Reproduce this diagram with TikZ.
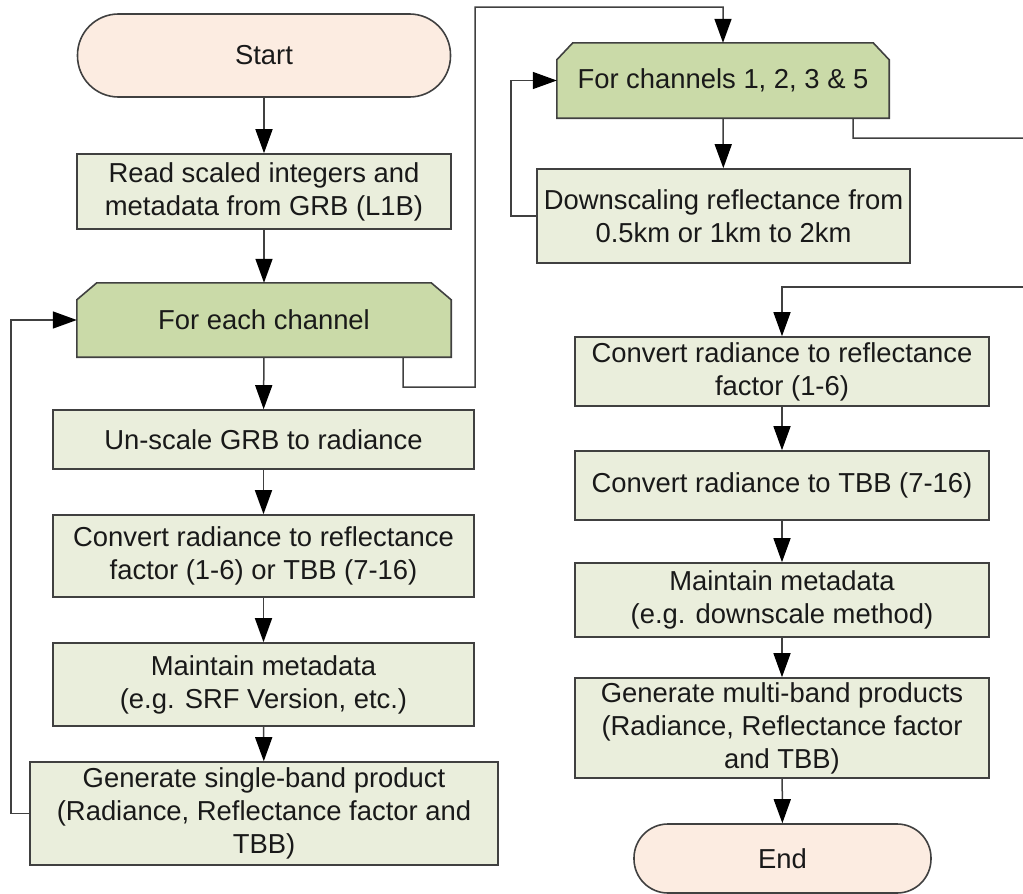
\documentclass[tikz,border=0pt]{standalone}
\usepackage{fontspec}
\setmainfont{Liberation Sans}
\usetikzlibrary{arrows.meta,backgrounds}
\definecolor{boxfill}{RGB}{234,238,220}
\definecolor{loopfill}{RGB}{202,218,168}
\definecolor{termfill}{RGB}{252,236,225}
\definecolor{edgecol}{RGB}{64,64,64}
\tikzset{
  base/.style={inner sep=0pt, align=center, font=\fontsize{27.4}{33}\selectfont, text=black!90},
  proc/.style={base, draw=edgecol, line width=1.6pt, fill=boxfill, rectangle},
  term/.style={base, draw=edgecol, line width=1.6pt, fill=termfill},
  loophead/.style={base},
  loopshape/.style={draw=edgecol, line width=1.6pt, fill=loopfill},
  conn/.style={draw=edgecol, line width=1.5pt, -{Triangle[length=24pt,width=17pt,color=black]}},
  plainline/.style={draw=edgecol, line width=1.5pt},
}
\begin{document}
\begin{tikzpicture}[x=1pt, y=-1pt]
\useasboundingbox (0,0) rectangle (1023,894);

% left column
\node[term, rounded corners=41pt, minimum width=373pt, minimum height=83pt] (st) at (264,55.5) {Start};
\node[proc, minimum width=374pt, minimum height=75pt] (rd) at (264,191.5) {Read scaled integers and\\metadata from GRB (L1B)};
\node[loophead, minimum width=374pt, minimum height=74pt] (fe) at (264,320) {For each channel};
\node[proc, minimum width=421pt, minimum height=59pt] (us) at (263.5,439.5) {Un-scale GRB to radiance};
\node[proc, minimum width=421pt, minimum height=82pt] (cv) at (263.5,556) {Convert radiance to reflectance\\factor (1-6) or TBB (7-16)};
\node[proc, minimum width=421pt, minimum height=83pt] (mm) at (263.5,684.5) {Maintain metadata\\(e.g. SRF Version, etc.)};
\node[proc, minimum width=468pt, minimum height=103pt] (gs) at (264,813.5) {Generate single-band product\\(Radiance, Reflectance factor and\\TBB)};

% right column
\node[loophead, minimum width=332pt, minimum height=75pt] (fc) at (723,80.5) {For channels 1, 2, 3 \& 5};
\node[proc, minimum width=373pt, minimum height=94pt] (dn) at (723.5,216) {Downscaling reflectance from\\0.5km or 1km to 2km};
\node[proc, minimum width=414pt, minimum height=69pt] (c2) at (782,371.5) {Convert radiance to reflectance\\factor (1-6)};
\node[proc, minimum width=414pt, minimum height=69pt] (tb) at (782,485.5) {Convert radiance to TBB (7-16)};
\node[proc, minimum width=414pt, minimum height=74pt] (m2) at (782,600) {Maintain metadata\\(e.g. downscale method)};
\node[proc, minimum width=414pt, minimum height=100pt] (gm) at (782,728) {Generate multi-band products\\(Radiance, Reflectance factor\\and TBB)};
\node[term, rounded corners=34pt, minimum width=297pt, minimum height=69pt] (en) at (782.5,858.5) {End};

% loop header shapes
\begin{pgfonlayer}{background}
\path[loopshape] (fe.south west) -- ([yshift=-17pt]fe.north west) -- ([xshift=20pt]fe.north west)
  -- ([xshift=-20pt]fe.north east) -- ([yshift=-17pt]fe.north east) -- (fe.south east) -- cycle;
\path[loopshape] (fc.south west) -- ([yshift=-17pt]fc.north west) -- ([xshift=16pt]fc.north west)
  -- ([xshift=-16pt]fc.north east) -- ([yshift=-17pt]fc.north east) -- (fc.south east) -- cycle;
\end{pgfonlayer}

% connectors left
\draw[conn] (st) -- (rd);
\draw[conn] (rd) -- (fe);
\draw[conn] (fe) -- (us);
\draw[conn] (us) -- (cv);
\draw[conn] (cv) -- (mm);
\draw[conn] (mm) -- (gs);
\draw[conn] (gs.west) -- ++(-18,0) |- (fe.west);
\draw[conn] ([xshift=-48pt]fe.south east) -- ++(0,30) -- (475,387) -- (475,7) -| (fc.north);

% connectors right
\draw[conn] (fc) -- (dn);
\draw[conn] (dn.west) -- ++(-25,0) |- (fc.west);
\coordinate (outR) at (1023,138);
\coordinate (inR) at (1023,287);
\draw[plainline] ([xshift=-36pt]fc.south east) -- ++(0,20) -- (outR);
\draw[conn] (inR) -| (c2.north);
\draw[conn] (c2) -- (tb);
\draw[conn] (tb) -- (m2);
\draw[conn] (m2) -- (gm);
\draw[conn] (gm) -- (en);
\end{tikzpicture}
\end{document}
